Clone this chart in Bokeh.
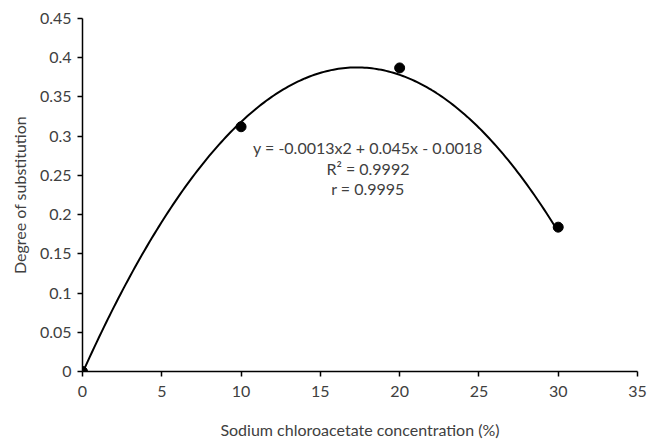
import numpy as np
from bokeh.plotting import figure
from bokeh.models import FixedTicker, Range1d
from bokeh.embed import file_html
from bokeh.resources import INLINE
from bokeh.core.properties import value

# Data
conc = [0, 10, 20, 30]
ds = [0.0, 0.312, 0.387, 0.184]
coef = [-0.0013, 0.045, -0.0018]  # displayed trendline coefficients (x^2, x, const)
x_ticks = [0, 5, 10, 15, 20, 25, 30, 35]
x_labels = ["0", "5", "10", "15", "20", "25", "30", "35"]
y_ticks = [0, 0.05, 0.1, 0.15, 0.2, 0.25, 0.3, 0.35, 0.4, 0.45]
y_labels = ["0", "0.05", "0.1", "0.15", "0.2", "0.25", "0.3", "0.35", "0.4", "0.45"]
eq_lines = ["y = -0.0013x2 + 0.045x - 0.0018", "R\u00b2 = 0.9992", "r = 0.9995"]
eq_y = [0.286, 0.259, 0.233]

FONT = "Lato"
FS = "16px"

p = figure(width=648, height=441, output_backend="svg", toolbar_location=None,
           x_range=Range1d(0, 35), y_range=Range1d(0, 0.45),
           min_border_left=82, min_border_right=11, min_border_top=18, min_border_bottom=66)
p.outline_line_color = None
p.xgrid.visible = False
p.ygrid.visible = False
p.background_fill_color = "white"

# trendline from displayed coefficients
xs = np.linspace(conc[0], conc[-1], 200)
ys = np.polyval(coef, xs)
p.line(xs, ys, line_color="black", line_width=2)

p.scatter(conc, ds, size=10, fill_color="black", line_color="black")

p.text(x=[18.0] * 3, y=eq_y, text=eq_lines, text_align="center", text_baseline="middle",
       text_font=value(FONT), text_font_size=FS, text_color="#404040")

for ax, ticks, labels in ((p.xaxis[0], x_ticks, x_labels), (p.yaxis[0], y_ticks, y_labels)):
    ax.ticker = FixedTicker(ticks=ticks)
    ax.major_label_overrides = {t: l for t, l in zip(ticks, labels)}
    ax.axis_line_color = "black"
    ax.axis_line_width = 1.5
    ax.major_tick_line_color = "black"
    ax.major_tick_line_width = 1.5
    ax.major_tick_in = 0
    ax.major_tick_out = 5
    ax.minor_tick_line_color = None
    ax.major_label_text_font = FONT
    ax.major_label_text_font_size = FS
    ax.major_label_text_color = "#404040"
    ax.axis_label_text_font = FONT
    ax.axis_label_text_font_size = FS
    ax.axis_label_text_font_style = "normal"
    ax.axis_label_text_color = "#404040"

p.xaxis.axis_label = "Sodium chloroacetate concentration (%)"
p.yaxis.axis_label = "Degree of substitution"
p.xaxis.major_label_standoff = 9
p.xaxis.axis_label_standoff = 20
p.yaxis.major_label_standoff = 6
p.yaxis.axis_label_standoff = 8

open("out.html", "w").write(file_html(p, INLINE))
